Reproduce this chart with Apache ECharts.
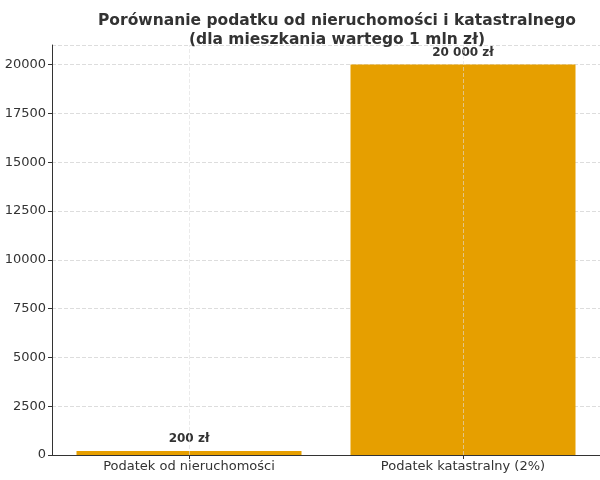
<!DOCTYPE html><html><head><meta charset="utf-8"><script src="https://cdn.jsdelivr.net/npm/echarts@6/dist/echarts.min.js"></script></head><body style="margin:0"><div id="c" style="width:600px;height:480px"></div><script>
const categories=['Podatek od nieruchomości','Podatek katastralny (2%)'];
const values=[200,20000];
const labels=['200 zł','20 000 zł'];
const ch=echarts.init(document.getElementById('c'));
ch.setOption({
title:{text:'Porównanie podatku od nieruchomości i katastralnego\n(dla mieszkania wartego 1 mln zł)',left:332,top:6,textAlign:'center',textStyle:{fontFamily:'DejaVu Sans',fontSize:15.5,fontWeight:'bold',color:'#333',lineHeight:19}},
grid:{left:52,width:568,top:45,bottom:25},
xAxis:{type:'category',data:categories,axisTick:{show:true,alignWithLabel:true,length:4,lineStyle:{color:'#333'}},axisLine:{lineStyle:{color:'#333'}},axisLabel:{color:'#333',fontFamily:'DejaVu Sans',fontSize:13,margin:5}},
yAxis:{type:'value',min:0,max:21000,interval:2500,axisLine:{show:true,lineStyle:{color:'#333'}},axisTick:{show:true,length:4,lineStyle:{color:'#333'}},axisLabel:{showMaxLabel:false,formatter:v=>String(v),color:'#333',fontFamily:'DejaVu Sans',fontSize:13,margin:6},splitLine:{lineStyle:{type:'dashed',color:'#ddd'}}},
series:[{type:'bar',data:values,barWidth:225,itemStyle:{color:'#E69F00'},
label:{show:true,position:'top',distance:6,fontFamily:'DejaVu Sans',fontWeight:'bold',fontSize:12,color:'#333',formatter:p=>labels[p.dataIndex]},
markLine:{silent:true,symbol:'none',label:{show:false},lineStyle:{type:'dashed',color:'#ddd',width:1,opacity:0.6},data:categories.map(c=>({xAxis:c}))},z:2}]
});
</script></body></html>
